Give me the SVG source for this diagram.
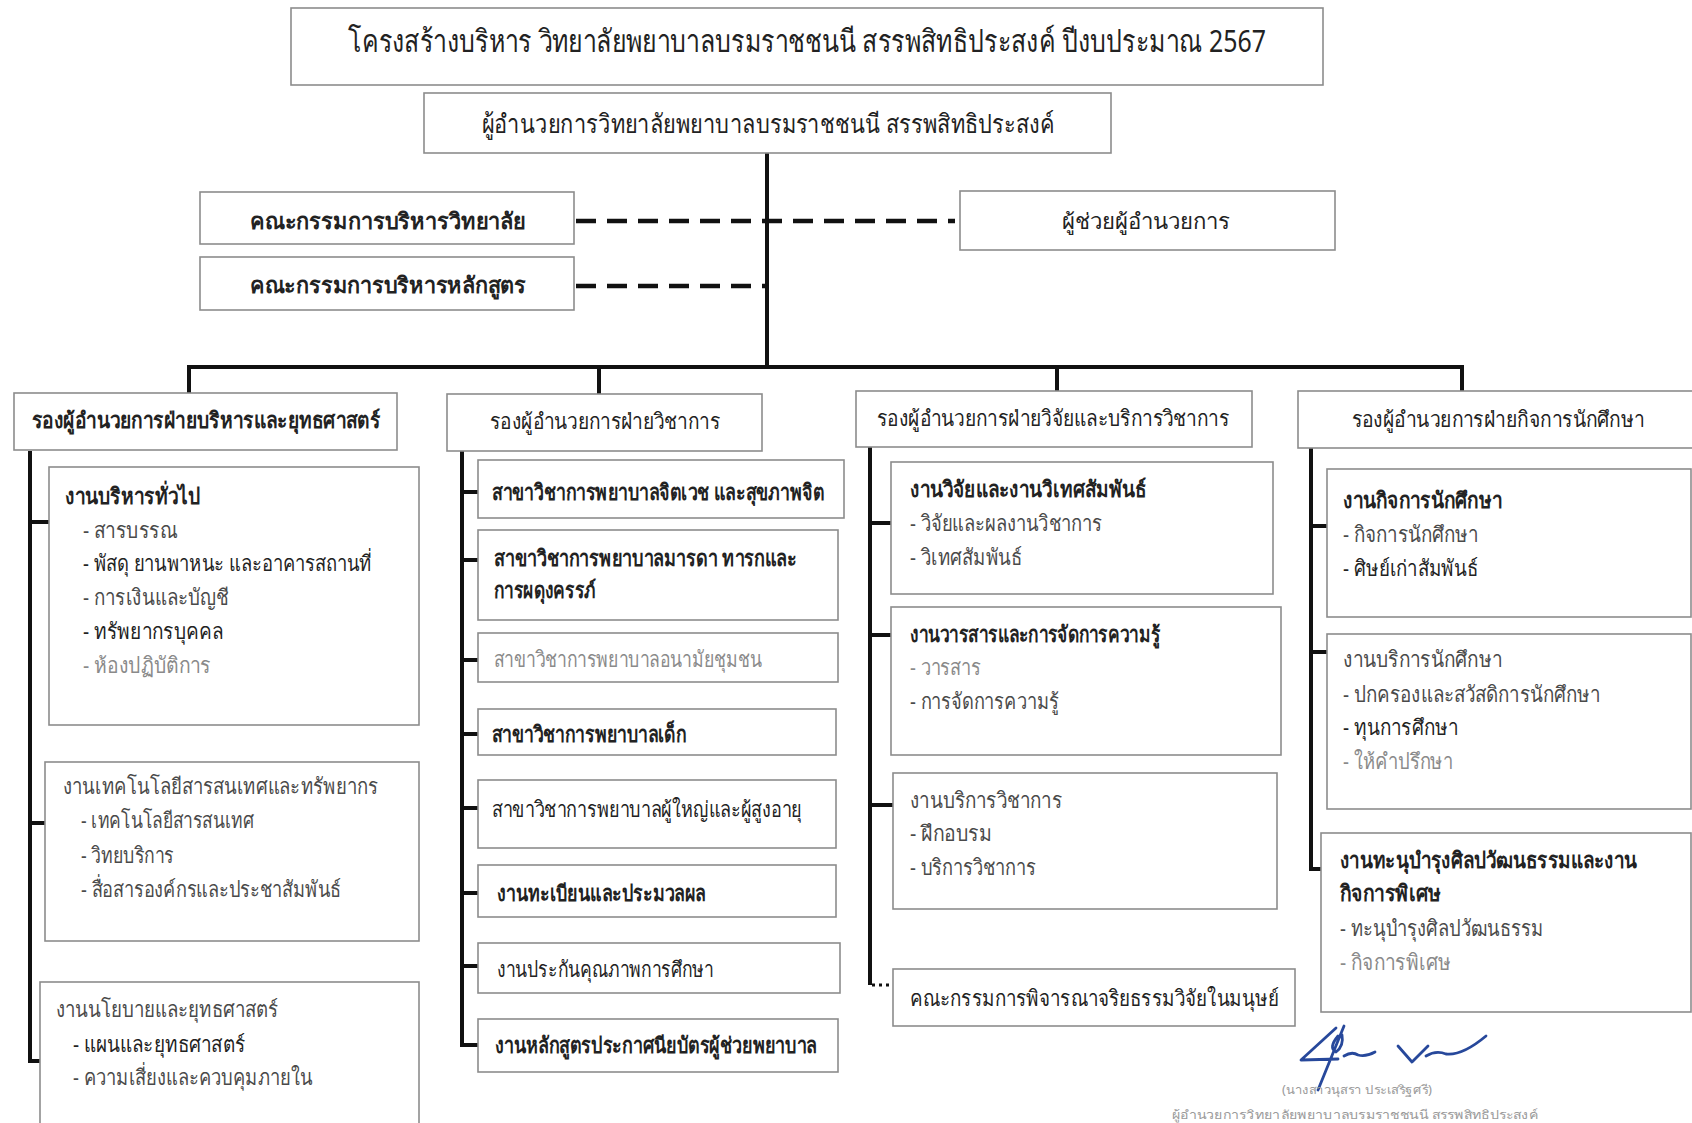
<svg xmlns="http://www.w3.org/2000/svg" width="1692" height="1123" viewBox="0 0 1692 1123">
<style>
.box{fill:#fff;stroke:#8c8c8c;stroke-width:1.6}
.c{stroke:#111;stroke-width:4;fill:none}
.d{stroke:#111;stroke-width:4.5;fill:none;stroke-dasharray:20 11}
.dot{stroke:#111;stroke-width:3;fill:none;stroke-dasharray:3 4}
text{font-family:"Noto Sans","DejaVu Sans","Liberation Sans",sans-serif;font-size:22px;fill:#222}
.m{text-anchor:middle}
.b{font-weight:bold}
.h{font-size:31px}
.dr{font-size:26px}
.it{fill:#4a4a4a}
.lt{fill:#8a8a8a}
.sg{font-size:12px;fill:#9a9a9a}
</style>
<rect width="1692" height="1123" fill="#fff"/>

<g id="connectors">
<line class="c" x1="767" y1="153" x2="767" y2="367"/>
<line class="d" x1="576" y1="221" x2="955" y2="221"/>
<line class="d" x1="576" y1="286" x2="765" y2="286"/>
<polyline class="c" points="189,393 189,367 1462,367 1462,391"/>
<line class="c" x1="599" y1="367" x2="599" y2="394"/>
<line class="c" x1="1057" y1="367" x2="1057" y2="391"/>
<polyline class="c" points="30,451 30,1061 40,1061"/>
<line class="c" x1="30" y1="522" x2="49" y2="522"/>
<line class="c" x1="30" y1="823" x2="45" y2="823"/>
<polyline class="c" points="462,451 462,1045 478,1045"/>
<line class="c" x1="462" y1="492" x2="478" y2="492"/>
<line class="c" x1="462" y1="560" x2="478" y2="560"/>
<line class="c" x1="462" y1="660" x2="478" y2="660"/>
<line class="c" x1="462" y1="734" x2="478" y2="734"/>
<line class="c" x1="462" y1="808" x2="478" y2="808"/>
<line class="c" x1="462" y1="893" x2="478" y2="893"/>
<line class="c" x1="462" y1="966" x2="478" y2="966"/>
<line class="c" x1="870" y1="447" x2="870" y2="985"/>
<line class="c" x1="870" y1="523" x2="891" y2="523"/>
<line class="c" x1="870" y1="635" x2="891" y2="635"/>
<line class="c" x1="870" y1="805" x2="893" y2="805"/>
<line class="dot" x1="872" y1="985" x2="893" y2="985"/>
<polyline class="c" points="1311,448 1311,869 1321,869"/>
<line class="c" x1="1311" y1="526" x2="1327" y2="526"/>
<line class="c" x1="1311" y1="652" x2="1327" y2="652"/>
</g>

<g id="title">
<rect class="box" x="291" y="8" width="1032" height="77"/>
<text class="m h" x="807" y="52" textLength="918" lengthAdjust="spacingAndGlyphs">โครงสร้างบริหาร วิทยาลัยพยาบาลบรมราชชนนี สรรพสิทธิประสงค์ ปีงบประมาณ 2567</text>
</g>
<g id="director">
<rect class="box" x="424" y="93" width="687" height="60"/>
<text class="m dr" x="768" y="133" textLength="573" lengthAdjust="spacingAndGlyphs">ผู้อำนวยการวิทยาลัยพยาบาลบรมราชชนนี สรรพสิทธิประสงค์</text>
</g>
<g id="board-college">
<rect class="box" x="200" y="192" width="374" height="52"/>
<text class="m b" x="388" y="229" textLength="276" lengthAdjust="spacingAndGlyphs">คณะกรรมการบริหารวิทยาลัย</text>
</g>
<g id="board-curriculum">
<rect class="box" x="200" y="257" width="374" height="53"/>
<text class="m b" x="388" y="293" textLength="276" lengthAdjust="spacingAndGlyphs">คณะกรรมการบริหารหลักสูตร</text>
</g>
<g id="assistant">
<rect class="box" x="960" y="191" width="375" height="59"/>
<text class="m" x="1146" y="229" textLength="169" lengthAdjust="spacingAndGlyphs">ผู้ช่วยผู้อำนวยการ</text>
</g>

<g id="deputy-admin">
<rect class="box" x="14" y="393" width="383" height="57"/>
<text class="m b" x="206" y="428" textLength="348" lengthAdjust="spacingAndGlyphs">รองผู้อำนวยการฝ่ายบริหารและยุทธศาสตร์</text>
</g>
<g id="deputy-academic">
<rect class="box" x="447" y="394" width="315" height="57"/>
<text class="m" x="605" y="429" textLength="230" lengthAdjust="spacingAndGlyphs">รองผู้อำนวยการฝ่ายวิชาการ</text>
</g>
<g id="deputy-research">
<rect class="box" x="856" y="391" width="396" height="56"/>
<text class="m" x="1053" y="426" textLength="352" lengthAdjust="spacingAndGlyphs">รองผู้อำนวยการฝ่ายวิจัยและบริการวิชาการ</text>
</g>
<g id="deputy-student">
<rect class="box" x="1298" y="391" width="400" height="57"/>
<text class="m" x="1498" y="427" textLength="293" lengthAdjust="spacingAndGlyphs">รองผู้อำนวยการฝ่ายกิจการนักศึกษา</text>
</g>

<g id="general-admin">
<rect class="box" x="49" y="467" width="370" height="258"/>
<text class="b" x="65" y="504" textLength="135" lengthAdjust="spacingAndGlyphs">งานบริหารทั่วไป</text>
<text class="it" x="83" y="538" textLength="94" lengthAdjust="spacingAndGlyphs">- สารบรรณ</text>
<text x="83" y="571" textLength="289" lengthAdjust="spacingAndGlyphs">- พัสดุ ยานพาหนะ และอาคารสถานที่</text>
<text class="it" x="83" y="605" textLength="146" lengthAdjust="spacingAndGlyphs">- การเงินและบัญชี</text>
<text x="83" y="639" textLength="140" lengthAdjust="spacingAndGlyphs">- ทรัพยากรบุคคล</text>
<text class="lt" x="83" y="673" textLength="128" lengthAdjust="spacingAndGlyphs">- ห้องปฏิบัติการ</text>
</g>
<g id="it-resources">
<rect class="box" x="45" y="762" width="374" height="179"/>
<text class="it" x="63" y="794" textLength="315" lengthAdjust="spacingAndGlyphs">งานเทคโนโลยีสารสนเทศและทรัพยากร</text>
<text class="it" x="81" y="828" textLength="173" lengthAdjust="spacingAndGlyphs">- เทคโนโลยีสารสนเทศ</text>
<text class="it" x="81" y="863" textLength="93" lengthAdjust="spacingAndGlyphs">- วิทยบริการ</text>
<text class="it" x="81" y="897" textLength="260" lengthAdjust="spacingAndGlyphs">- สื่อสารองค์กรและประชาสัมพันธ์</text>
</g>
<g id="policy-strategy">
<rect class="box" x="40" y="982" width="379" height="160"/>
<text class="it" x="56" y="1017" textLength="222" lengthAdjust="spacingAndGlyphs">งานนโยบายและยุทธศาสตร์</text>
<text x="73" y="1052" textLength="172" lengthAdjust="spacingAndGlyphs">- แผนและยุทธศาสตร์</text>
<text class="it" x="73" y="1085" textLength="240" lengthAdjust="spacingAndGlyphs">- ความเสี่ยงและควบคุมภายใน</text>
</g>

<g id="psych">
<rect class="box" x="478" y="460" width="366" height="58"/>
<text class="b" x="492" y="500" textLength="332" lengthAdjust="spacingAndGlyphs">สาขาวิชาการพยาบาลจิตเวช และสุขภาพจิต</text>
</g>
<g id="maternal">
<rect class="box" x="478" y="530" width="360" height="90"/>
<text class="b" x="494" y="566" textLength="303" lengthAdjust="spacingAndGlyphs">สาขาวิชาการพยาบาลมารดา  ทารกและ</text>
<text class="b" x="494" y="598" textLength="102" lengthAdjust="spacingAndGlyphs">การผดุงครรภ์</text>
</g>
<g id="community">
<rect class="box" x="478" y="633" width="360" height="49"/>
<text class="lt" x="494" y="667" textLength="268" lengthAdjust="spacingAndGlyphs">สาขาวิชาการพยาบาลอนามัยชุมชน</text>
</g>
<g id="pediatric">
<rect class="box" x="478" y="709" width="358" height="46"/>
<text class="b" x="492" y="742" textLength="194" lengthAdjust="spacingAndGlyphs">สาขาวิชาการพยาบาลเด็ก</text>
</g>
<g id="adult">
<rect class="box" x="478" y="780" width="358" height="68"/>
<text x="492" y="817" textLength="310" lengthAdjust="spacingAndGlyphs">สาขาวิชาการพยาบาลผู้ใหญ่และผู้สูงอายุ</text>
</g>
<g id="registrar">
<rect class="box" x="478" y="865" width="358" height="52"/>
<text class="b" x="497" y="901" textLength="209" lengthAdjust="spacingAndGlyphs">งานทะเบียนและประมวลผล</text>
</g>
<g id="qa">
<rect class="box" x="478" y="943" width="362" height="50"/>
<text x="497" y="977" textLength="217" lengthAdjust="spacingAndGlyphs">งานประกันคุณภาพการศึกษา</text>
</g>
<g id="pn-course">
<rect class="box" x="478" y="1019" width="360" height="53"/>
<text class="b" x="495" y="1053" textLength="322" lengthAdjust="spacingAndGlyphs">งานหลักสูตรประกาศนียบัตรผู้ช่วยพยาบาล</text>
</g>

<g id="research">
<rect class="box" x="891" y="462" width="382" height="132"/>
<text class="b" x="910" y="497" textLength="236" lengthAdjust="spacingAndGlyphs">งานวิจัยและงานวิเทศสัมพันธ์</text>
<text class="it" x="910" y="531" textLength="192" lengthAdjust="spacingAndGlyphs">- วิจัยและผลงานวิชาการ</text>
<text class="it" x="910" y="565" textLength="112" lengthAdjust="spacingAndGlyphs">- วิเทศสัมพันธ์</text>
</g>
<g id="journal">
<rect class="box" x="891" y="607" width="390" height="148"/>
<text class="b" x="910" y="642" textLength="250" lengthAdjust="spacingAndGlyphs">งานวารสารและการจัดการความรู้</text>
<text class="lt" x="910" y="675" textLength="71" lengthAdjust="spacingAndGlyphs">- วารสาร</text>
<text class="it" x="910" y="709" textLength="149" lengthAdjust="spacingAndGlyphs">- การจัดการความรู้</text>
</g>
<g id="academic-service">
<rect class="box" x="893" y="773" width="384" height="136"/>
<text class="it" x="910" y="808" textLength="152" lengthAdjust="spacingAndGlyphs">งานบริการวิชาการ</text>
<text class="it" x="910" y="841" textLength="82" lengthAdjust="spacingAndGlyphs">- ฝึกอบรม</text>
<text class="it" x="910" y="875" textLength="126" lengthAdjust="spacingAndGlyphs">- บริการวิชาการ</text>
</g>
<g id="ethics">
<rect class="box" x="893" y="969" width="402" height="57"/>
<text x="910" y="1006" textLength="369" lengthAdjust="spacingAndGlyphs">คณะกรรมการพิจารณาจริยธรรมวิจัยในมนุษย์</text>
</g>

<g id="student-affairs">
<rect class="box" x="1327" y="469" width="364" height="148"/>
<text class="b" x="1343" y="508" textLength="159" lengthAdjust="spacingAndGlyphs">งานกิจการนักศึกษา</text>
<text class="it" x="1343" y="542" textLength="135" lengthAdjust="spacingAndGlyphs">- กิจการนักศึกษา</text>
<text x="1343" y="576" textLength="135" lengthAdjust="spacingAndGlyphs">- ศิษย์เก่าสัมพันธ์</text>
</g>
<g id="student-service">
<rect class="box" x="1327" y="634" width="364" height="175"/>
<text class="it" x="1343" y="667" textLength="159" lengthAdjust="spacingAndGlyphs">งานบริการนักศึกษา</text>
<text class="it" x="1343" y="702" textLength="257" lengthAdjust="spacingAndGlyphs">- ปกครองและสวัสดิการนักศึกษา</text>
<text x="1343" y="735" textLength="115" lengthAdjust="spacingAndGlyphs">- ทุนการศึกษา</text>
<text class="lt" x="1343" y="769" textLength="110" lengthAdjust="spacingAndGlyphs">- ให้คำปรึกษา</text>
</g>
<g id="culture">
<rect class="box" x="1321" y="833" width="370" height="179"/>
<text class="b" x="1340" y="868" textLength="297" lengthAdjust="spacingAndGlyphs">งานทะนุบำรุงศิลปวัฒนธรรมและงาน</text>
<text class="b" x="1340" y="901" textLength="101" lengthAdjust="spacingAndGlyphs">กิจการพิเศษ</text>
<text class="it" x="1340" y="936" textLength="203" lengthAdjust="spacingAndGlyphs">- ทะนุบำรุงศิลปวัฒนธรรม</text>
<text class="lt" x="1340" y="970" textLength="111" lengthAdjust="spacingAndGlyphs">- กิจการพิเศษ</text>
</g>

<g id="signature">
<path d="M1336,1028 L1301,1060 L1338,1059 M1344,1026 L1318,1090 M1338,1036 Q1328,1048 1336,1052 Q1344,1046 1342,1035 M1344,1056 Q1352,1051 1358,1055 Q1366,1057 1375,1052 M1398,1046 L1412,1062 L1428,1046 M1426,1056 Q1436,1050 1446,1054 Q1462,1056 1486,1036" fill="none" stroke="#27489b" stroke-width="2.8" stroke-linecap="round" stroke-linejoin="round"/>
<text class="sg m" x="1357" y="1094" textLength="150" lengthAdjust="spacingAndGlyphs">(นางสาวนุสรา  ประเสริฐศรี)</text>
<text class="sg m" x="1355" y="1119" textLength="366" lengthAdjust="spacingAndGlyphs">ผู้อำนวยการวิทยาลัยพยาบาลบรมราชชนนี สรรพสิทธิประสงค์</text>
</g>
</svg>
